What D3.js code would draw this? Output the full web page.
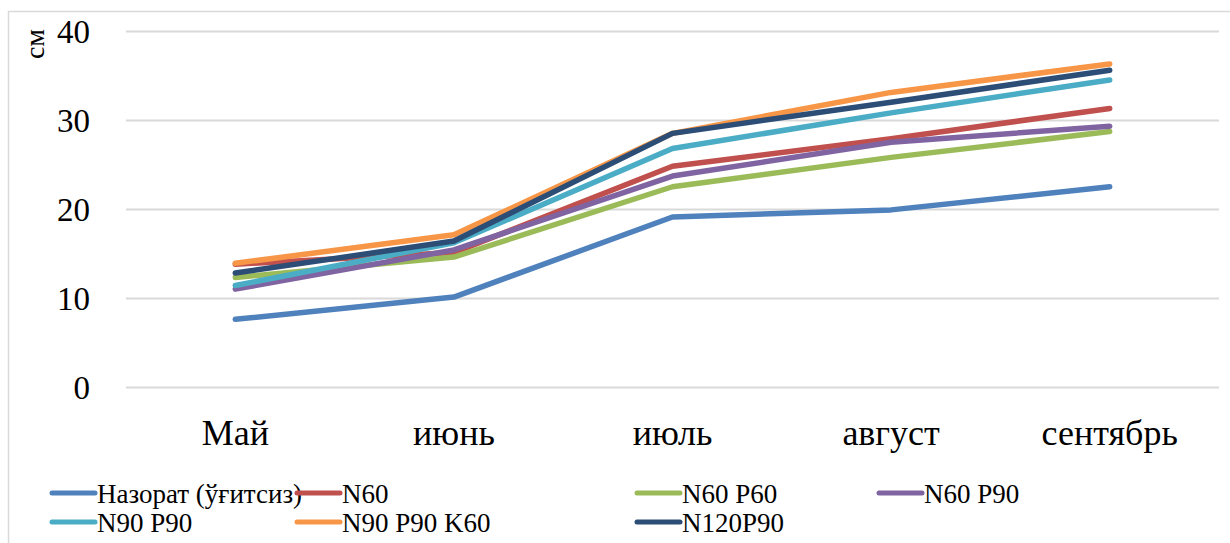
<!DOCTYPE html>
<html>
<head>
<meta charset="utf-8">
<script src="https://cdn.jsdelivr.net/npm/d3@7"></script>
<style>
  html, body { margin: 0; padding: 0; background: #fff; }
  svg { display: block; font-family: "Liberation Serif", "Times New Roman", serif; }
  svg text { font-family: "Liberation Serif", "Times New Roman", serif; }
</style>
</head>
<body>
<svg id="chart" width="1230" height="543"></svg>
<script>
// Plant height by month for each fertiliser treatment (cm)
const months = ["Май", "июнь", "июль", "август", "сентябрь"];
const yTicks = [0, 10, 20, 30, 40];
const seriesNames = ["Назорат (ўғитсиз)", "N60", "N60 P60", "N60 P90", "N90 P90", "N90 P90 K60", "N120P90"];
const nazorat   = [7.6, 10.1, 19.1, 19.9, 22.5];
const n60       = [13.8, 15.1, 24.8, 27.9, 31.3];
const n60p60    = [12.3, 14.6, 22.5, 25.8, 28.7];
const n60p90    = [11.0, 15.4, 23.7, 27.5, 29.3];
const n90p90    = [11.4, 16.2, 26.8, 30.8, 34.5];
const n90p90k60 = [13.9, 17.1, 28.5, 33.1, 36.3];
const n120p90   = [12.8, 16.4, 28.5, 32.0, 35.6];
const colors = ["#4F81BD", "#C0504D", "#9BBB59", "#8064A2", "#4BACC6", "#F79646", "#2C4D75"];

const seriesValues = [nazorat, n60, n60p60, n60p90, n90p90, n90p90k60, n120p90];
const series = seriesNames.map((name, i) => ({ name, values: seriesValues[i], color: colors[i] }));

const svg = d3.select("#chart");
const font = "'Liberation Serif', 'Times New Roman', serif";

// outer chart frame
svg.append("rect")
  .attr("x", 8.5).attr("y", 11.5)
  .attr("width", 1300).attr("height", 600)
  .attr("fill", "none").attr("stroke", "#d9d9d9").attr("stroke-width", 1.5);

const plot = { left: 126, right: 1219, top: 31, bottom: 387 };

const x = d3.scaleBand().domain(months).range([plot.left, plot.right]);
const y = d3.scaleLinear().domain([0, 40]).range([plot.bottom, plot.top]);

// horizontal gridlines
const yAxis = d3.axisLeft(y).tickValues(yTicks)
  .tickSize(-(plot.right - plot.left)).tickPadding(36);
const gy = svg.append("g").attr("transform", `translate(${plot.left},0)`).call(yAxis)
  .attr("font-family", null);
gy.select(".domain").remove();
gy.selectAll(".tick line").attr("stroke", "#d9d9d9").attr("stroke-width", 2);
gy.selectAll(".tick text")
  .style("font-family", font).attr("font-size", 33).attr("fill", "#000")
  .attr("dy", "0.36em");

// category axis
const xAxis = d3.axisBottom(x).tickSize(0).tickPadding(0);
const gx = svg.append("g").attr("transform", `translate(0,${plot.bottom})`).call(xAxis)
  .attr("font-family", null);
gx.select(".domain").remove();
gx.selectAll(".tick text")
  .style("font-family", font).attr("font-size", 36).attr("fill", "#000")
  .attr("dy", 0).attr("y", 58);

// unit label
svg.append("text")
  .attr("transform", "translate(44,44) rotate(-90)")
  .attr("text-anchor", "middle")
  .style("font-family", font).attr("font-size", 28).attr("fill", "#000")
  .text("см");

// series lines
const line = d3.line()
  .x((d, i) => x(months[i]) + x.bandwidth() / 2)
  .y(d => y(d));

svg.append("g").selectAll("path")
  .data(series)
  .join("path")
  .attr("d", d => line(d.values))
  .attr("fill", "none")
  .attr("stroke", d => d.color)
  .attr("stroke-width", 5.5)
  .attr("stroke-linecap", "round")
  .attr("stroke-linejoin", "round");

// legend
const legendPos = [
  { x: 52, y: 493 }, { x: 297, y: 493 }, { x: 637, y: 493 }, { x: 879, y: 493 },
  { x: 52, y: 522 }, { x: 297, y: 522 }, { x: 637, y: 522 }
];
const lg = svg.append("g").selectAll("g")
  .data(series)
  .join("g")
  .attr("transform", (d, i) => `translate(${legendPos[i].x},${legendPos[i].y})`);
lg.append("line")
  .attr("x1", 0).attr("x2", 43)
  .attr("stroke", d => d.color).attr("stroke-width", 5)
  .attr("stroke-linecap", "round");
lg.append("text")
  .attr("x", 45).attr("y", 10)
  .style("font-family", font).attr("font-size", 27).attr("fill", "#000")
  .text(d => d.name);
</script>
</body>
</html>
